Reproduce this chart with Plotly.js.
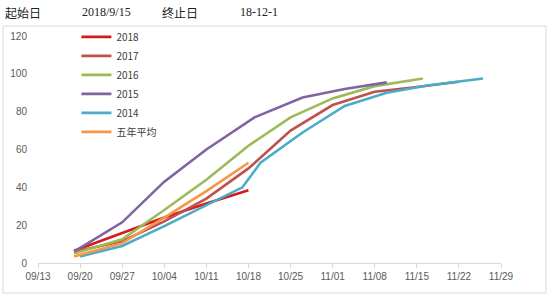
<!DOCTYPE html>
<html>
<head>
<meta charset="utf-8">
<script src="https://cdn.plot.ly/plotly-3.0.1.min.js"></script>
<style>html,body{margin:0;padding:0;background:#fff;}#chart{width:550px;height:300px;}</style>
</head>
<body>
<div id="chart"></div>
<script>
const seriesNames = ['2018', '2017', '2016', '2015', '2014', '五年平均'];
const seriesColors = ['#d7191c', '#c0504d', '#9bbb59', '#8064a2', '#4bacc6', '#f79646'];

const dates2018 = ['2018-09-19', '2018-09-27', '2018-10-04', '2018-10-11', '2018-10-18'];
const values2018 = [6.5, 16, 24, 31.5, 38.5];

const dates2017 = ['2018-09-19', '2018-09-27', '2018-10-04', '2018-10-11', '2018-10-18', '2018-10-25', '2018-11-01', '2018-11-08', '2018-11-15', '2018-11-22'];
const values2017 = [6, 11.5, 22, 34, 50, 70, 83.5, 90.5, 93, 95.8];

const dates2016 = ['2018-09-19', '2018-09-27', '2018-10-04', '2018-10-11', '2018-10-18', '2018-10-25', '2018-11-01', '2018-11-08', '2018-11-16'];
const values2016 = [5, 12.5, 28, 44, 62, 77, 87, 93.5, 97.5];

const dates2015 = ['2018-09-19', '2018-09-27', '2018-10-04', '2018-10-11', '2018-10-19', '2018-10-27', '2018-11-03', '2018-11-10'];
const values2015 = [6, 21.5, 43, 60, 77, 87.5, 92, 95.5];

const dates2014 = ['2018-09-20', '2018-09-27', '2018-10-04', '2018-10-11', '2018-10-17', '2018-10-20', '2018-10-27', '2018-11-03', '2018-11-10', '2018-11-17', '2018-11-26'];
const values2014 = [3.5, 9, 19.5, 30.5, 40, 53, 69, 83, 90, 94, 97.5];

const datesAvg = ['2018-09-19', '2018-09-27', '2018-10-04', '2018-10-11', '2018-10-18'];
const valuesAvg = [3.5, 10.5, 24, 38, 53];

const tickDates = ['2018-09-13', '2018-09-20', '2018-09-27', '2018-10-04', '2018-10-11', '2018-10-18', '2018-10-25', '2018-11-01', '2018-11-08', '2018-11-15', '2018-11-22', '2018-11-29'];
const tickLabels = ['09/13', '09/20', '09/27', '10/04', '10/11', '10/18', '10/25', '11/01', '11/08', '11/15', '11/22', '11/29'];
const yTicks = [0, 20, 40, 60, 80, 100, 120];

const headerTexts = ['起始日', '2018/9/15', '终止日', '18-12-1'];

const xs = [dates2018, dates2017, dates2016, dates2015, dates2014, datesAvg];
const ys = [values2018, values2017, values2016, values2015, values2014, valuesAvg];

const traces = seriesNames.map((n, i) => ({
  type: 'scatter', mode: 'lines', name: n,
  x: xs[i], y: ys[i],
  line: {color: seriesColors[i], width: 2.6}
}));

const cjk = '"Noto Sans CJK SC", "Noto Sans", sans-serif';
const layout = {
  width: 550, height: 300,
  margin: {l: 38, r: 49, t: 36, b: 37},
  paper_bgcolor: '#fff', plot_bgcolor: '#fff',
  showlegend: true,
  legend: {
    x: 0.083, y: 1.06, xanchor: 'left', yanchor: 'top',
    bgcolor: 'rgba(0,0,0,0)',
    font: {family: cjk, size: 10, color: '#404040'},
    itemwidth: 30, tracegroupgap: 0
  },
  xaxis: {
    type: 'date',
    range: ['2018-09-13', '2018-11-29'],
    tickvals: tickDates, ticktext: tickLabels,
    showgrid: false, zeroline: false,
    showline: true, linecolor: '#d9d9d9', linewidth: 1,
    ticks: 'outside', ticklen: 4, tickcolor: '#d9d9d9',
    tickfont: {family: '"Liberation Sans", Arial, sans-serif', size: 10, color: '#595959'}
  },
  yaxis: {
    range: [0, 120],
    tickvals: yTicks,
    showgrid: false, zeroline: false, showline: false,
    ticks: '', ticklabelstandoff: 10,
    tickfont: {family: '"Liberation Sans", Arial, sans-serif', size: 10, color: '#595959'}
  },
  shapes: [{
    type: 'rect', xref: 'paper', yref: 'paper',
    x0: (3 - 38) / 463, x1: (546 - 38) / 463,
    y0: (263 - 293) / 227, y1: (263 - 26) / 227,
    line: {color: '#d9d9d9', width: 1}, layer: 'below'
  }],
  annotations: [
    {text: headerTexts[0], x: (3 - 38) / 463, font: {family: cjk, size: 12, color: '#222'}},
    {text: headerTexts[1], x: (80 - 38) / 463, font: {family: '"Liberation Serif", serif', size: 12, color: '#222'}},
    {text: headerTexts[2], x: (160 - 38) / 463, font: {family: cjk, size: 12, color: '#222'}},
    {text: headerTexts[3], x: (238 - 38) / 463, font: {family: '"Liberation Serif", serif', size: 12, color: '#222'}}
  ].map(a => Object.assign({xref: 'paper', yref: 'paper', y: (263 - 12) / 227, xanchor: 'left', yanchor: 'middle', showarrow: false}, a))
};

Plotly.newPlot('chart', traces, layout, {displayModeBar: false, staticPlot: true});
</script>
</body>
</html>
